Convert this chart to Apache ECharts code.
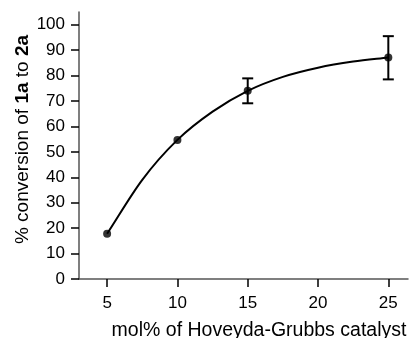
<!DOCTYPE html>
<html>
<head>
<meta charset="utf-8">
<script src="https://cdn.jsdelivr.net/npm/echarts@6/dist/echarts.min.js"></script>
<style>html,body{margin:0;padding:0;background:#fff}#c{width:412px;height:338px}</style>
</head>
<body>
<div id="c"></div>
<script>
// measured points
const xPoints = [5, 10, 15, 25];
const yPoints = [17.8, 54.7, 74.0, 87.1];
// error bars [x, low, high]
const errX = [15, 25];
const errLow = [69.1, 78.5];
const errHigh = [78.9, 95.5];
// fitted curve
const curveX = [5, 7.5, 10, 12.5, 15, 17.5, 20, 22.5, 25];
const curveY = [17.8, 39.0, 54.7, 65.8, 74.0, 79.5, 83.1, 85.5, 87.1];
// ticks
const xTicks = [5, 10, 15, 20, 25];
const yTicks = [0, 10, 20, 30, 40, 50, 60, 70, 80, 90, 100];

const font = '"Liberation Sans", Arial, sans-serif';
const chart = echarts.init(document.getElementById('c'), null, {renderer: 'canvas'});

// smooth curve through the read points using the axis scales (Catmull-Rom -> Bezier)
function renderCurve(params, api) {
  const p = curveX.map((x, i) => api.coord([x, curveY[i]]));
  let d = 'M' + p[0][0] + ' ' + p[0][1];
  for (let i = 0; i < p.length - 1; i++) {
    const p0 = p[i - 1] || [2 * p[0][0] - p[1][0], 2 * p[0][1] - p[1][1]];
    const p1 = p[i], p2 = p[i + 1];
    const n = p.length;
    const p3 = p[i + 2] || [2 * p[n - 1][0] - p[n - 2][0], 2 * p[n - 1][1] - p[n - 2][1]];
    const c1 = [p1[0] + (p2[0] - p0[0]) / 6, p1[1] + (p2[1] - p0[1]) / 6];
    const c2 = [p2[0] - (p3[0] - p1[0]) / 6, p2[1] - (p3[1] - p1[1]) / 6];
    d += ' C' + c1[0] + ' ' + c1[1] + ' ' + c2[0] + ' ' + c2[1] + ' ' + p2[0] + ' ' + p2[1];
  }
  return {type: 'path', shape: {pathData: d}, style: {stroke: '#000', lineWidth: 2, fill: null}};
}

chart.setOption({
  animation: false,
  grid: {left: 79, right: 4, top: 12, bottom: 59, containLabel: false, outerBoundsMode: 'none'},
  xAxis: {
    type: 'value', min: 3, max: 26.4,
    name: 'mol% of Hoveyda-Grubbs catalyst',
    nameLocation: 'middle', nameGap: 42, nameMoveOverlap: false,
    nameTextStyle: {fontFamily: font, fontSize: 19.5, color: '#000', padding: [0, 0, 0, 31]},
    axisLine: {lineStyle: {color: '#555', width: 1.5}},
    axisTick: {show: true, inside: false, length: 8, lineStyle: {color: '#000', width: 1.5}, customValues: xTicks},
    axisLabel: {fontFamily: font, fontSize: 17, color: '#000', margin: 16, customValues: xTicks},
    splitLine: {show: false}
  },
  yAxis: {
    type: 'value', min: 0, max: 105,
    name: '% conversion of {b|1a} to {b|2a}',
    nameLocation: 'middle', nameGap: 47, nameRotate: 90, nameMoveOverlap: false,
    nameTextStyle: {fontFamily: font, fontSize: 19, color: '#000', padding: [0, 0, 0, 12],
      rich: {b: {fontFamily: font, fontSize: 19, fontWeight: 'bold', color: '#000'}}},
    axisLine: {show: true, lineStyle: {color: '#555', width: 1.5}},
    axisTick: {show: true, inside: false, length: 8, lineStyle: {color: '#000', width: 1.5}, customValues: yTicks},
    axisLabel: {fontFamily: font, fontSize: 17, color: '#000', margin: 14, customValues: yTicks},
    splitLine: {show: false}
  },
  series: [
    {
      type: 'custom', data: [[curveX[0], curveY[0]]],
      renderItem: renderCurve, z: 2
    },
    {
      type: 'custom',
      data: errX.map((x, i) => [x, errLow[i], errHigh[i]]),
      renderItem: function (params, api) {
        const lo = api.coord([api.value(0), api.value(1)]);
        const hi = api.coord([api.value(0), api.value(2)]);
        const w = 5.5;
        const st = {stroke: '#000', lineWidth: 2};
        return {type: 'group', children: [
          {type: 'line', shape: {x1: lo[0], y1: lo[1], x2: hi[0], y2: hi[1]}, style: st},
          {type: 'line', shape: {x1: lo[0] - w, y1: lo[1], x2: lo[0] + w, y2: lo[1]}, style: st},
          {type: 'line', shape: {x1: hi[0] - w, y1: hi[1], x2: hi[0] + w, y2: hi[1]}, style: st}
        ]};
      },
      z: 3
    },
    {
      type: 'scatter', data: xPoints.map((x, i) => [x, yPoints[i]]),
      symbol: 'circle', symbolSize: 8, itemStyle: {color: '#000'}, z: 4
    }
  ]
});
</script>
</body>
</html>
